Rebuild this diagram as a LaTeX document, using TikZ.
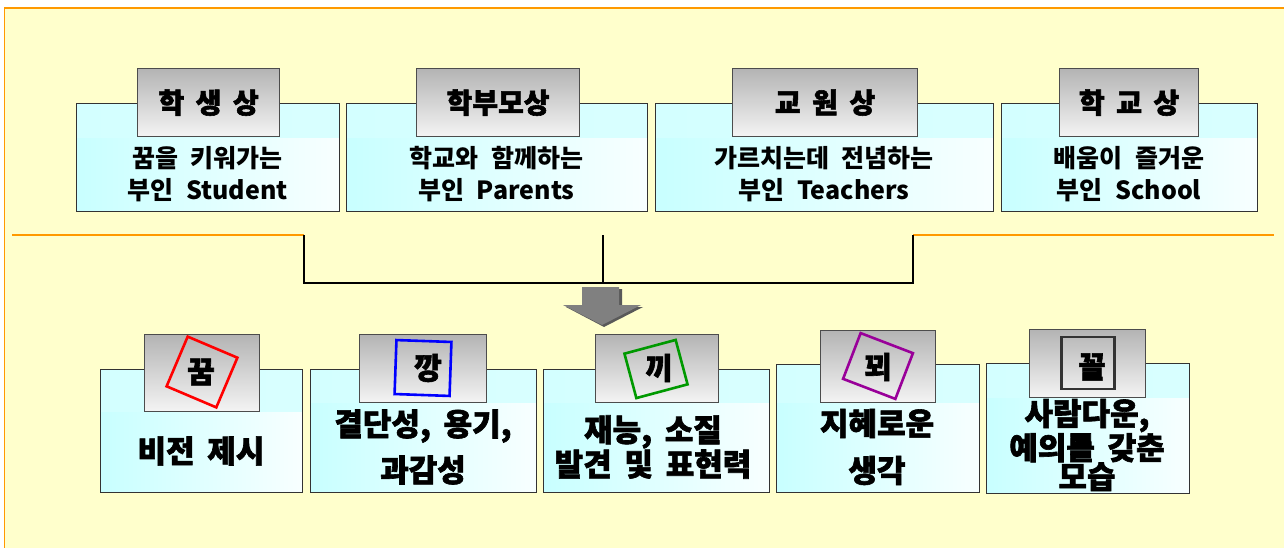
\documentclass[tikz,border=0pt]{standalone}
\usepackage{fontspec}
\newfontfamily\kr{Noto Sans CJK KR}[WordSpace=2.2]
\newfontfamily\krheavy{Noto Sans CJK KR}[WordSpace=1.8, FakeBold=2]

\definecolor{panelyellow}{HTML}{FFFFCC}
\definecolor{panelorange}{HTML}{FF9900}
\definecolor{boxcyan}{HTML}{C8FFFF}
\definecolor{boxwhite}{HTML}{F8FFFF}
\definecolor{tabtop}{HTML}{B4B4B4}
\definecolor{tabbot}{HTML}{F4F4F4}
\definecolor{markgreen}{HTML}{009900}
\definecolor{markpurple}{HTML}{990099}
\definecolor{arrowgray}{HTML}{808080}

\tikzset{
  panebox/.style={draw=black!80, line width=1.4pt, left color=boxcyan, right color=boxwhite,
    anchor=north west, inner sep=0pt,
    path picture={\shade[left color=boxcyan!80, middle color=white, right color=boxcyan!70]
      (path picture bounding box.north west) rectangle ([yshift=-#1pt]path picture bounding box.north east);}},
  tabbox/.style={draw=black!70, line width=1.2pt, top color=tabtop, bottom color=tabbot,
    anchor=north west, inner sep=0pt},
  toplabel/.style={font=\krheavy\bfseries\fontsize{28}{28}\selectfont},
  topbody/.style={font=\kr\bfseries\fontsize{25}{32}\selectfont, align=center},
  lowbody/.style={font=\krheavy\bfseries\fontsize{31}{#1}\selectfont, align=center},
  markbox/.style={draw=#1, line width=2.6pt, inner sep=0pt},
  markchar/.style={font=\krheavy\bfseries\fontsize{30}{30}\selectfont, inner sep=0pt}
}

\begin{document}
\begin{tikzpicture}[x=1pt, y=-1pt]
  \path[use as bounding box] (0,0) rectangle (1284,548);
  \clip (0,0) rectangle (1284,548);
  \fill[white] (0,0) rectangle (1284,548);
  \draw[panelorange, line width=1.5pt, fill=panelyellow] (4.5,8) rectangle (1300,560);

  \foreach \i/\bx/\bw/\tx/\tw/\lab/\body in {
      1/76/263/137/142/{학 생 상}/{꿈을 키워가는\\부인 Student},
      2/346/301/416/163/{학부모상}/{학교와 함께하는\\부인 Parents},
      3/655/338/732/185/{교 원 상}/{가르치는데 전념하는\\부인 Teachers},
      4/1001/256/1059/139/{학 교 상}/{배움이 즐거운\\부인 School}} {
    \node[panebox=34, minimum width=\bw, minimum height=108] (top\i) at (\bx,103) {};
    \node[tabbox, toplabel, minimum width=\tw, minimum height=68] (toptab\i) at (\tx,68) {\lab};
    \node[topbody] (toptext\i) at ({\bx+\bw/2},174.5) {\body};
  }

  \coordinate (sepL) at (12,235);
  \coordinate (brL) at (304,235);
  \coordinate (brC) at (603,235);
  \coordinate (brR) at (913,235);
  \coordinate (sepR) at (1274,235);
  \draw[panelorange, line width=1.2pt] (sepL) -- (brL);
  \draw[panelorange, line width=1.2pt] (brR) -- (sepR);
  \draw[line width=1.2pt] (brL) -- ++(0,48) -| (brR);
  \draw[line width=1.2pt] (brC) -- ++(0,48);

  \fill[black!65] (585,289) -- (622,289) -- (622,307) -- (643,307) -- (604,327) -- (566,307) -- (585,307) -- cycle;
  \fill[arrowgray] (582,287) -- (619,287) -- (619,305) -- (641,305) -- (602,325) -- (563,305) -- (582,305) -- cycle;

  \node[panebox=42, minimum width=202, minimum height=123] (low1) at (100,369) {};
  \node[panebox=33, minimum width=226, minimum height=123] (low2) at (310,369) {};
  \node[panebox=33, minimum width=226, minimum height=123] (low3) at (543,369) {};
  \node[panebox=38, minimum width=203, minimum height=128] (low4) at (776,364) {};
  \node[panebox=34, minimum width=203, minimum height=130] (low5) at (986,363) {};

  \node[tabbox, minimum width=115, minimum height=77] (lowtab1) at (144,334) {};
  \node[tabbox, minimum width=127, minimum height=68] (lowtab2) at (359,334) {};
  \node[tabbox, minimum width=123, minimum height=68] (lowtab3) at (595,334) {};
  \node[tabbox, minimum width=115, minimum height=72] (lowtab4) at (820,330) {};
  \node[tabbox, minimum width=116, minimum height=68] (lowtab5) at (1029,329) {};

  \node[markbox=red, minimum width=54, minimum height=54, rotate=-23] (sq1) at (202,372) {};
  \node[markbox=blue, minimum width=55, minimum height=54, rotate=-2] (sq2) at (423,368) {};
  \node[markbox=markgreen, minimum width=53, minimum height=46, rotate=15] (sq3) at (656,369) {};
  \node[markbox=markpurple, minimum width=56, minimum height=49, rotate=-21] (sq4) at (878,366) {};
  \node[markbox=black!80, minimum width=53, minimum height=52] (sq5) at (1088,363) {};

  \node[markchar] (ch1) at (201,372) {꿈};
  \node[markchar] (ch2) at (428,368) {깡};
  \node[markchar] (ch3) at (659,368) {끼};
  \node[markchar] (ch4) at (878,367) {꾀};
  \node[markchar] (ch5) at (1092,367) {꼴};

  \node[lowbody=46] (lowtext1) at (201,451) {비전 제시};
  \node[lowbody=46] (lowtext2) at (423,447) {결단성, 용기,\\과감성};
  \node[lowbody=29] (lowtext3) at (653,447) {재능, 소질\\발견 및 표현력};
  \node[lowbody=47] (lowtext4) at (877,447) {지혜로운\\생각};
  \node[lowbody=29] (lowtext5) at (1087,445) {사람다운,\\예의를 갖춘\\모습};
\end{tikzpicture}
\end{document}
